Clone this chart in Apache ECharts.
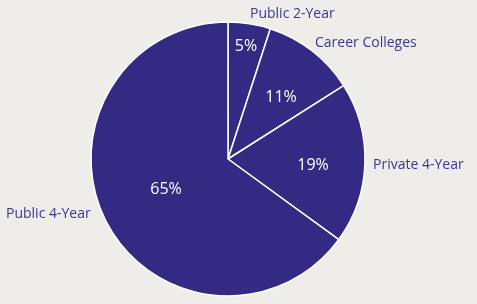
<!DOCTYPE html>
<html>
<head>
<meta charset="utf-8">
<script src="https://cdn.jsdelivr.net/npm/echarts@6/dist/echarts.min.js"></script>
<style>
  html, body { margin: 0; padding: 0; background: #efedea; }
  #chart { width: 477px; height: 304px; }
</style>
</head>
<body>
<div id="chart"></div>
<script>
// Dados do gráfico
var categorias = ['Public 2-Year', 'Career Colleges', 'Private 4-Year', 'Public 4-Year'];
var valores = [5, 11, 19, 65];

// Posições dos rótulos (apenas layout)
var posExterna = [[250, 14], [315, 43], [373, 165], [6, 214]];
var posInterna = [[246, 46], [281, 97], [313, 165], [166, 189]];

var chart = echarts.init(document.getElementById('chart'));

var dados = categorias.map(function (c, i) {
    return { name: c, value: valores[i] };
});

var options = {
    backgroundColor: '#efedea',
    animation: false,
    series: [
        {
            type: 'pie',
            center: [228, 159],
            radius: [0, 137],
            startAngle: 90,
            clockwise: true,
            silent: true,
            itemStyle: {
                color: '#332b83',
                borderColor: '#ffffff',
                borderWidth: 1.5
            },
            label: {
                show: true,
                position: 'inside',
                formatter: '{c}%',
                color: '#ffffff',
                fontFamily: 'Open Sans',
                fontSize: 16
            },
            labelLine: { show: false },
            labelLayout: function (p) {
                var pos = posInterna[p.dataIndex];
                return { x: pos[0], y: pos[1], align: 'center', verticalAlign: 'middle' };
            },
            data: dados
        },
        {
            type: 'pie',
            center: [228, 159],
            radius: [0, 137],
            startAngle: 90,
            silent: true,
            itemStyle: { color: 'transparent', borderWidth: 0 },
            label: {
                show: true,
                position: 'outside',
                formatter: '{b}',
                color: '#3d3592',
                fontFamily: 'Open Sans',
                fontSize: 14,
                overflow: 'none',
                width: 200
            },
            labelLine: { show: false },
            labelLayout: function (p) {
                var pos = posExterna[p.dataIndex];
                return { x: pos[0], y: pos[1], align: 'left', verticalAlign: 'middle' };
            },
            data: dados
        }
    ]
};

chart.setOption(options);
</script>
</body>
</html>
